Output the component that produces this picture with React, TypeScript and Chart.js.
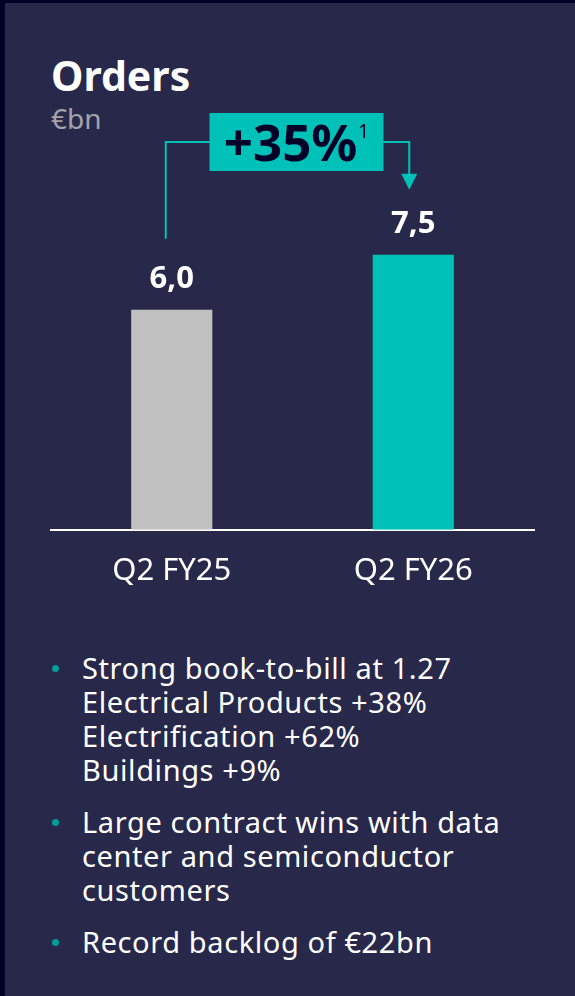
import React, { useEffect, useRef } from "react";
import { Chart, registerables } from "chart.js";

Chart.register(...registerables);

const categories = ["Q2 FY25", "Q2 FY26"];
const orderValues = [6.0, 7.5];
const barColors = ["#C0C0C0", "#00C1B8"];
const changeLabel = "+35%";
const changeFootnote = "1";
const title = "Orders";
const unit = "€bn";
const bullets: string[][] = [
  ["Strong book-to-bill at 1.27", "Electrical Products +38%", "Electrification +62%", "Buildings +9%"],
  ["Large contract wins with data", "center and semiconductor", "customers"],
  ["Record backlog of €22bn"],
];

const FONT = "'Noto Sans', sans-serif";
const TEAL = "#00C1B8";
const NAVY = "#000028";
const PANEL = "#28284A";

const valueLabelPlugin = {
  id: "valueLabels",
  afterDatasetsDraw(chart: any) {
    const ctx = chart.ctx;
    const meta = chart.getDatasetMeta(0);
    ctx.save();
    ctx.fillStyle = "#FFFFFF";
    ctx.font = `bold 31px ${FONT}`;
    ctx.textAlign = "center";
    ctx.textBaseline = "middle";
    meta.data.forEach((bar: any, i: number) => {
      const v = chart.data.datasets[0].data[i] as number;
      ctx.fillText(v.toFixed(1).replace(".", ","), bar.x, bar.y - 31);
    });
    ctx.restore();
  },
};

const changeArrowPlugin = {
  id: "changeArrow",
  afterDraw(chart: any) {
    const ctx = chart.ctx;
    const meta = chart.getDatasetMeta(0);
    const b0 = meta.data[0];
    const b1 = meta.data[1];
    if (!b0 || !b1) return;
    const lineY = chart.chartArea.top - 21;
    const leftX = b0.x - 6;
    const rightX = b1.x - 4;
    const mid = (b0.x + b1.x) / 2 + 4;
    const boxW = 174;
    const boxH = 58;
    const boxL = mid - boxW / 2;
    const boxR = mid + boxW / 2;
    const boxT = lineY - 29;
    ctx.save();
    ctx.strokeStyle = TEAL;
    ctx.lineWidth = 2;
    ctx.beginPath();
    ctx.moveTo(leftX, b0.y - 71);
    ctx.lineTo(leftX, lineY);
    ctx.lineTo(boxL, lineY);
    ctx.stroke();
    const tipY = b1.y - 65;
    ctx.beginPath();
    ctx.moveTo(boxR, lineY);
    ctx.lineTo(rightX, lineY);
    ctx.lineTo(rightX, tipY - 14);
    ctx.stroke();
    ctx.fillStyle = TEAL;
    ctx.beginPath();
    ctx.moveTo(rightX - 8, tipY - 16);
    ctx.lineTo(rightX + 8, tipY - 16);
    ctx.lineTo(rightX, tipY);
    ctx.closePath();
    ctx.fill();
    ctx.fillRect(boxL, boxT, boxW, boxH);
    ctx.fillStyle = NAVY;
    ctx.font = `bold 51px ${FONT}`;
    const mainW = ctx.measureText(changeLabel).width;
    ctx.font = `19px ${FONT}`;
    const supW = ctx.measureText(changeFootnote).width;
    const startX = mid - (mainW + supW + 1) / 2;
    ctx.textAlign = "left";
    ctx.textBaseline = "alphabetic";
    ctx.font = `bold 51px ${FONT}`;
    ctx.fillText(changeLabel, startX, boxT + boxH - 10);
    ctx.font = `19px ${FONT}`;
    ctx.fillText(changeFootnote, startX + mainW + 1, boxT + 25);
    ctx.restore();
  },
};

function OrdersChart() {
  const ref = useRef<HTMLCanvasElement>(null);
  useEffect(() => {
    if (!ref.current) return;
    const chart = new Chart(ref.current, {
      type: "bar",
      data: {
        labels: categories,
        datasets: [
          {
            data: orderValues,
            backgroundColor: barColors,
            borderWidth: 0,
            barPercentage: 0.336,
            categoryPercentage: 1,
          },
        ],
      },
      options: {
        responsive: false,
        animation: false,
        layout: { padding: { left: 51, right: 41, top: 63, bottom: 20 } },
        plugins: { legend: { display: false }, tooltip: { enabled: false } },
        scales: {
          y: { display: false, min: 0, max: 10 },
          x: {
            grid: { display: false, drawTicks: false },
            border: { display: true, color: "#FFFFFF", width: 2 },
            ticks: { color: "#FFFFFF", font: { family: FONT, size: 31 }, padding: 23 },
          },
        },
      },
      plugins: [valueLabelPlugin, changeArrowPlugin],
    });
    return () => chart.destroy();
  }, []);
  return <canvas ref={ref} width={575} height={533} style={{ display: "block" }} />;
}

export default function App() {
  useEffect(() => {
    document.body.style.margin = "0";
  }, []);
  return (
    <div style={{ position: "relative", width: 575, height: 996, background: NAVY, overflow: "hidden", fontFamily: FONT }}>
      <div style={{ position: "absolute", left: 5, top: 3, right: 0, bottom: 0, background: PANEL }} />
      <div style={{ position: "absolute", left: 51, top: 48, color: "#FFFFFF", fontWeight: 700, fontSize: 41, lineHeight: "54px" }}>
        {title}
      </div>
      <div style={{ position: "absolute", left: 51, top: 100, color: "#A3A3AD", fontSize: 28, lineHeight: "36px" }}>
        {unit}
      </div>
      <div style={{ position: "absolute", left: 0, top: 100 }}>
        <OrdersChart />
      </div>
      <div style={{ position: "absolute", left: 82, top: 651, color: "#FFFFFF", fontSize: 29, letterSpacing: "0.6px", lineHeight: "34px" }}>
        {bullets.map((lines, i) => (
          <div key={i} style={{ position: "relative", marginBottom: 18 }}>
            <span
              style={{
                position: "absolute",
                left: -30,
                top: 14,
                width: 7,
                height: 7,
                borderRadius: "50%",
                background: "#009C98",
              }}
            />
            {lines.map((l, j) => (
              <div key={j} style={{ whiteSpace: "nowrap" }}>{l}</div>
            ))}
          </div>
        ))}
      </div>
    </div>
  );
}
